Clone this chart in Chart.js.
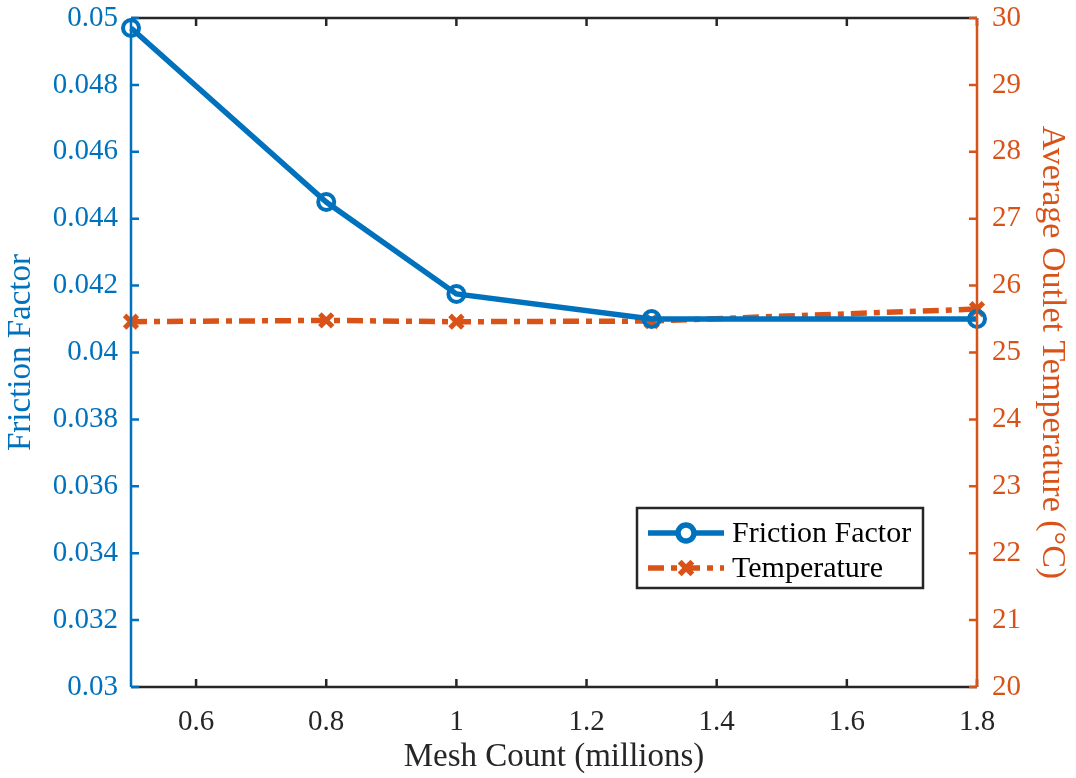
<!DOCTYPE html>
<html>
<head>
<meta charset="utf-8">
<script src="https://cdn.jsdelivr.net/npm/chart.js@4.4.1/dist/chart.umd.min.js"></script>
<style>
  html, body { margin: 0; padding: 0; background: #fff; }
  #wrap { width: 1076px; height: 778px; }
</style>
</head>
<body>
<div id="wrap"><canvas id="c" width="1076" height="778"></canvas></div>
<script>
// mesh independence data
const meshCount = [0.5, 0.8, 1.0, 1.3, 1.8];
const frictionFactor = [0.0497, 0.0445, 0.04175, 0.0410, 0.0410];
const outletTemp = [25.46, 25.48, 25.46, 25.47, 25.65];

const xTicks = [0.6, 0.8, 1.0, 1.2, 1.4, 1.6, 1.8];
const fTicks = [0.03, 0.032, 0.034, 0.036, 0.038, 0.04, 0.042, 0.044, 0.046, 0.048, 0.05];
const tTicks = [20, 21, 22, 23, 24, 25, 26, 27, 28, 29, 30];

const BLUE = '#0072BD';
const ORANGE = '#D95319';
const DARK = '#262626';
const FONT = '"Liberation Serif", "Times New Roman", serif';

const fmt = v => String(+(+v).toFixed(4));

// fixed scale sizes so the plot box lands where we want it
const fixSize = (w, h) => s => {
  if (w != null) s.width = w;
  if (h != null) s.height = h;
  s.paddingTop = s.paddingBottom = s.paddingLeft = s.paddingRight = 0;
};

// frame lines + inward tick marks, matlab style
const framePlugin = {
  id: 'frame',
  afterDatasetsDraw(chart) {
    const { ctx, chartArea: a, scales } = chart;
    const len = 8;
    ctx.save();
    ctx.lineWidth = 2.5;
    ctx.strokeStyle = DARK;
    xTicks.forEach(v => {
      const px = scales.x.getPixelForValue(v);
      ctx.beginPath();
      ctx.moveTo(px, a.bottom); ctx.lineTo(px, a.bottom - len);
      ctx.moveTo(px, a.top); ctx.lineTo(px, a.top + len);
      ctx.stroke();
    });
    ctx.beginPath();
    ctx.moveTo(a.left, a.bottom); ctx.lineTo(a.right, a.bottom);
    ctx.moveTo(a.left, a.top); ctx.lineTo(a.right, a.top);
    ctx.stroke();

    ctx.strokeStyle = BLUE;
    ctx.beginPath();
    fTicks.forEach(v => {
      const py = scales.y.getPixelForValue(v);
      ctx.moveTo(a.left, py); ctx.lineTo(a.left + len, py);
    });
    ctx.moveTo(a.left, a.top); ctx.lineTo(a.left, a.bottom);
    ctx.stroke();

    ctx.strokeStyle = ORANGE;
    ctx.beginPath();
    tTicks.forEach(v => {
      const py = scales.y1.getPixelForValue(v);
      ctx.moveTo(a.right, py); ctx.lineTo(a.right - len, py);
    });
    ctx.moveTo(a.right, a.top); ctx.lineTo(a.right, a.bottom);
    ctx.stroke();
    ctx.restore();
  }
};

// boxed legend inside the plot area
const legendPlugin = {
  id: 'boxLegend',
  afterDraw(chart) {
    const { ctx } = chart;
    const box = { x: 637, y: 508, w: 286, h: 80 };
    ctx.save();
    ctx.fillStyle = '#fff';
    ctx.fillRect(box.x, box.y, box.w, box.h);
    ctx.lineWidth = 2.5;
    ctx.strokeStyle = DARK;
    ctx.strokeRect(box.x, box.y, box.w, box.h);
    ctx.font = '30px ' + FONT;
    ctx.textBaseline = 'middle';
    chart.data.datasets.forEach((ds, i) => {
      const y = box.y + 25 + i * 35;
      const x0 = box.x + 11, x1 = box.x + 87, xm = (x0 + x1) / 2;
      ctx.strokeStyle = ds.borderColor;
      ctx.lineWidth = ds.borderWidth;
      ctx.setLineDash(ds.borderDash || []);
      ctx.beginPath();
      ctx.moveTo(x0, y); ctx.lineTo(x1, y);
      ctx.stroke();
      ctx.setLineDash([]);
      Chart.helpers.drawPoint(ctx, {
        pointStyle: ds.pointStyle,
        radius: ds.pointRadius,
        borderWidth: ds.pointBorderWidth,
        rotation: 0
      }, xm, y);
      ctx.fillStyle = '#000';
      ctx.fillText(ds.label, box.x + 95, y + 1);
    });
    ctx.restore();
  }
};

new Chart(document.getElementById('c'), {
  type: 'line',
  data: {
    datasets: [
      {
        label: 'Friction Factor',
        data: meshCount.map((x, i) => ({ x, y: frictionFactor[i] })),
        yAxisID: 'y',
        borderColor: BLUE,
        borderWidth: 5.5,
        pointStyle: 'circle',
        pointRadius: 8,
        pointBorderWidth: 4,
        pointBorderColor: BLUE,
        pointBackgroundColor: 'rgba(0,0,0,0)',
        tension: 0,
        clip: false
      },
      {
        label: 'Temperature',
        data: meshCount.map((x, i) => ({ x, y: outletTemp[i] })),
        yAxisID: 'y1',
        borderColor: ORANGE,
        borderWidth: 5.5,
        borderDash: [16, 7, 6, 7],
        pointStyle: 'crossRot',
        pointRadius: 9,
        pointBorderWidth: 5,
        pointBorderColor: ORANGE,
        tension: 0,
        clip: false
      }
    ]
  },
  options: {
    responsive: false,
    animation: false,
    layout: { padding: { top: 18, right: 0, left: 0, bottom: 0 } },
    plugins: { legend: { display: false }, tooltip: { enabled: false } },
    scales: {
      x: {
        type: 'linear',
        min: 0.5, max: 1.8,
        afterBuildTicks: s => { s.ticks = xTicks.map(value => ({ value })); },
        afterFit: fixSize(null, 91),
        grid: { display: false, drawTicks: false },
        border: { display: false },
        ticks: { color: DARK, font: { family: FONT, size: 29 }, padding: 18, callback: fmt, maxRotation: 0 },
        title: { display: true, text: 'Mesh Count (millions)', color: DARK, font: { family: FONT, size: 33 }, padding: { top: 0, bottom: 1 } }
      },
      y: {
        position: 'left',
        min: 0.03, max: 0.05,
        afterBuildTicks: s => { s.ticks = fTicks.map(value => ({ value })); },
        afterFit: fixSize(131, null),
        grid: { display: false, drawTicks: false },
        border: { display: false },
        ticks: { color: BLUE, font: { family: FONT, size: 29 }, padding: 13, callback: fmt },
        title: { display: true, text: 'Friction Factor', color: BLUE, font: { family: FONT, size: 33 }, padding: 2 }
      },
      y1: {
        position: 'right',
        min: 20, max: 30,
        afterBuildTicks: s => { s.ticks = tTicks.map(value => ({ value })); },
        afterFit: fixSize(99, null),
        grid: { display: false, drawTicks: false },
        border: { display: false },
        ticks: { color: ORANGE, font: { family: FONT, size: 29 }, padding: 15, callback: fmt },
        title: { display: true, text: 'Average Outlet Temperature (°C)', color: ORANGE, font: { family: FONT, size: 34 }, padding: 4 }
      }
    }
  },
  plugins: [framePlugin, legendPlugin]
});
</script>
</body>
</html>
